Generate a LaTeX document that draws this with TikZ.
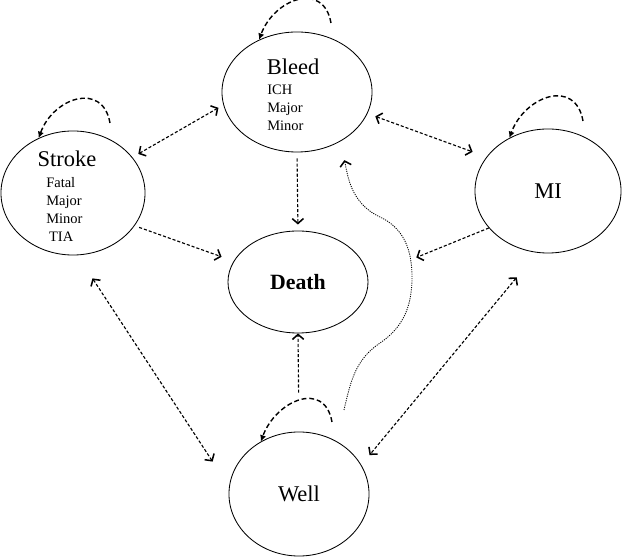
\documentclass[tikz,border=0pt]{standalone}
\usepackage{fontspec}
\setmainfont{Liberation Serif}
\usetikzlibrary{arrows.meta, shapes.geometric}

\begin{document}
\begin{tikzpicture}[
    x=0.025cm, y=0.025cm,
    state/.style={ellipse, draw=black, line width=0.6pt, inner sep=0pt, font=\fontsize{16}{19}\selectfont},
    title/.style={font=\fontsize{16}{19}\selectfont, inner sep=0pt},
    items/.style={font=\fontsize{10.3}{12.8}\selectfont, align=left, inner sep=0pt, anchor=west},
    link/.style={line width=0.8pt, dash pattern=on 2.2pt off 1.4pt, >={Straight Barb[length=3.5pt,width=8pt,line width=1.1pt]}},
    trail/.style={line width=0.6pt, dash pattern=on 0.8pt off 0.8pt, >={Straight Barb[length=3.5pt,width=8pt,line width=1.1pt]}},
    selfloop/.style={-{Latex[length=4.5pt,width=4.5pt]}, line width=1pt, dash pattern=on 3.5pt off 2pt, looseness=1.5}
]
    \useasboundingbox (0,0) rectangle (622,557);

    % Health states
    \node[state, minimum width=3.75cm, minimum height=3cm] (bleed) at (297,465) {};
    \node[state, minimum width=3.6cm, minimum height=3.1cm] (stroke) at (73,364) {};
    \node[state, minimum width=3.5cm, minimum height=2.55cm, font=\fontsize{15.5}{18}\selectfont\bfseries] (death) at (298,275) {Death};
    \node[state, minimum width=3.65cm, minimum height=3.1cm] (mi) at (548,366) {MI};
    \node[state, minimum width=3.5cm, minimum height=3.1cm] (well) at (299,63) {Well};

    % Labels inside the states
    \node[title] (bleedT) at (293,490) {Bleed};
    \node[items] (bleedL) at (267,449) {ICH\\Major\\Minor};
    \node[title] (strokeT) at (67,398) {Stroke};
    \node[items] (strokeL) at (46,347.5) {Fatal\\Major\\Minor\\\hspace{2pt}TIA};

    % Transitions between states
    \draw[link, <->, shorten <=4.8pt, shorten >=4pt] (stroke.31) -- (bleed.190);
    \draw[link, <->, shorten <=5.9pt, shorten >=10.5pt] (bleed.343) -- (mi.151);
    \draw[link, ->, shorten <=4.3pt, shorten >=4.3pt] (bleed.south) -- (death.north);
    \draw[link, ->, shorten <=3.4pt, shorten >=9.1pt] (stroke.332) -- (death.162);
    \draw[link, ->, shorten >=37pt] (mi.212) -- (death.4);
    \draw[link, ->, shorten <=27.7pt] (well.north) -- (death.south);
    \draw[link, <->, shorten <=19.6pt, shorten >=21.3pt] (stroke.274) -- (well.174);
    \draw[link, <->, shorten <=22.7pt, shorten >=9.1pt] (mi.260) -- (well.25);

    % Well to Bleed
    \coordinate (wellexit) at (344,147);
    \draw[trail, ->, shorten >=13.5pt] (wellexit) to[out=77, in=214] (380,214)
        to[out=34, in=270] (412,280) to[out=90, in=-25] (380,340)
        to[out=155, in=283] (bleed.311);

    % Staying in the same state
    \foreach \s/\px/\py/\a in {stroke/110/434/122, bleed/331/534/126, mi/583/436/126, well/332/135/126} {
        \coordinate (\s-loop) at (\px,\py);
        \draw[selfloop] (\s-loop) to[out=100, in=70] (\s.\a);
    }

\end{tikzpicture}
\end{document}
